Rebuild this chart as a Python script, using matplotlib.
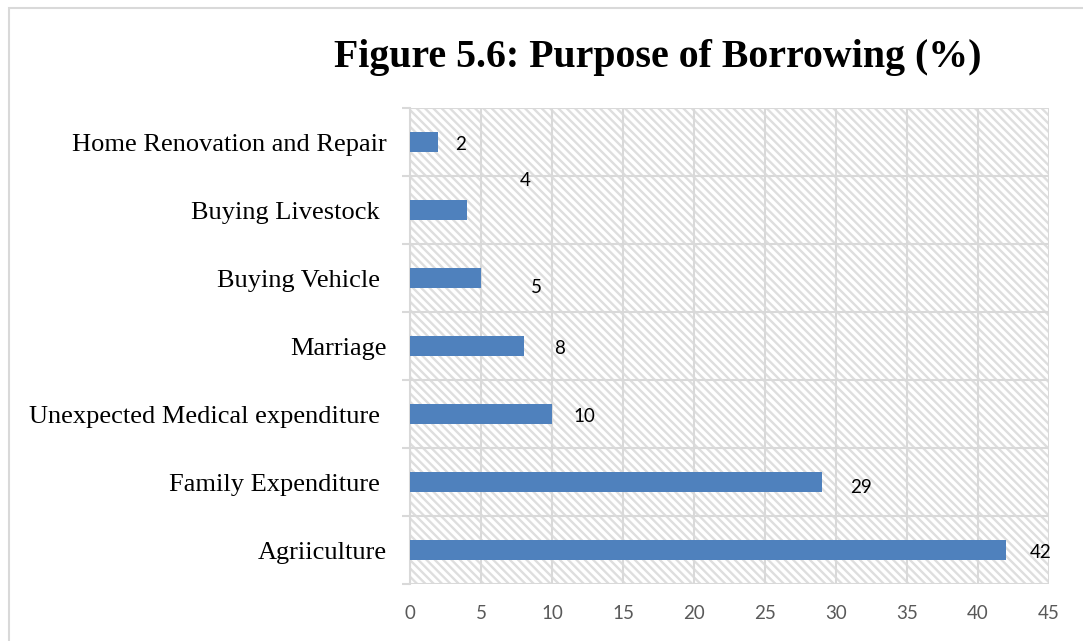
import matplotlib.pyplot as plt
import matplotlib.patches as patches

# ---------------------------------------------------------
# Purpose of borrowing, share of borrowers (%)
# ---------------------------------------------------------
purposes = [
    "Agriiculture",
    "Family Expenditure ",
    "Unexpected Medical expenditure ",
    "Marriage",
    "Buying Vehicle ",
    "Buying Livestock ",
    "Home Renovation and Repair",
]
shares = [42, 29, 10, 8, 5, 4, 2]
xticks = [0, 5, 10, 15, 20, 25, 30, 35, 40, 45]

# hand-placed data label offsets (points) from the bar end
label_offsets = [(25, -2), (28, -4), (23, -2), (26, -2), (40, -7), (42, 21), (16, -2)]

GRID = "#d9d9d9"
BAR = "#4f81bd"

plt.rcParams["hatch.linewidth"] = 1.7
plt.rcParams["hatch.color"] = "#dedede"

fig = plt.figure(figsize=(10.83, 6.41), dpi=100)
ax = fig.add_axes([0.3786, 0.0889, 0.59, 0.7426])

# light diagonal hatch behind the plot area
bg = patches.Rectangle((0, 0), 1, 1, transform=ax.transAxes, facecolor="white",
                       edgecolor="#dedede", linewidth=0, hatch="\\\\\\\\", zorder=0)
ax.add_patch(bg)

y = range(len(purposes))
ax.barh(y, shares, height=0.28, color=BAR, zorder=3)

for i, v in enumerate(shares):
    dx, dy = label_offsets[i]
    ax.annotate(str(v), (v, i), xytext=(dx, dy), textcoords="offset points",
                ha="center", va="center", fontsize=13.5, family="Lato", color="black")

ax.set_xlim(0, 45)
ax.set_ylim(-0.5, len(purposes) - 0.5)
ax.set_xticks(xticks)
ax.set_xticklabels([str(t) for t in xticks], family="Lato", fontsize=13.5, color="#595959")
ax.tick_params(axis="x", length=0, pad=15)

ax.set_yticks(list(y))
ax.set_yticklabels(purposes, family="Liberation Serif", fontsize=19, color="black")
ax.set_yticks([k - 0.5 for k in range(len(purposes) + 1)], minor=True)
ax.tick_params(axis="y", which="major", length=0, pad=17)
ax.tick_params(axis="y", which="minor", length=6, width=1.5, color=GRID)

ax.grid(axis="x", color=GRID, linewidth=1.5, zorder=1)
ax.grid(axis="y", which="minor", color=GRID, linewidth=1.5, zorder=1)
ax.set_axisbelow(True)

for side in ["top", "right", "bottom"]:
    ax.spines[side].set_visible(False)
ax.spines["left"].set_color(GRID)
ax.spines["left"].set_linewidth(1.5)

fig.text(0.6076, 1 - 67 / 641, "Figure 5.6: Purpose of Borrowing (%)",
         ha="center", va="baseline", fontsize=28.7, fontweight="bold",
         family="Liberation Serif")

# chart frame (open on the right and bottom)
frame = patches.Rectangle((8.5 / 1083, -0.05), 1.1, 1.05 - 8.5 / 641,
                          transform=fig.transFigure, fill=False,
                          edgecolor=GRID, linewidth=1.5)
fig.add_artist(frame)

plt.savefig("out.png", dpi=100)
